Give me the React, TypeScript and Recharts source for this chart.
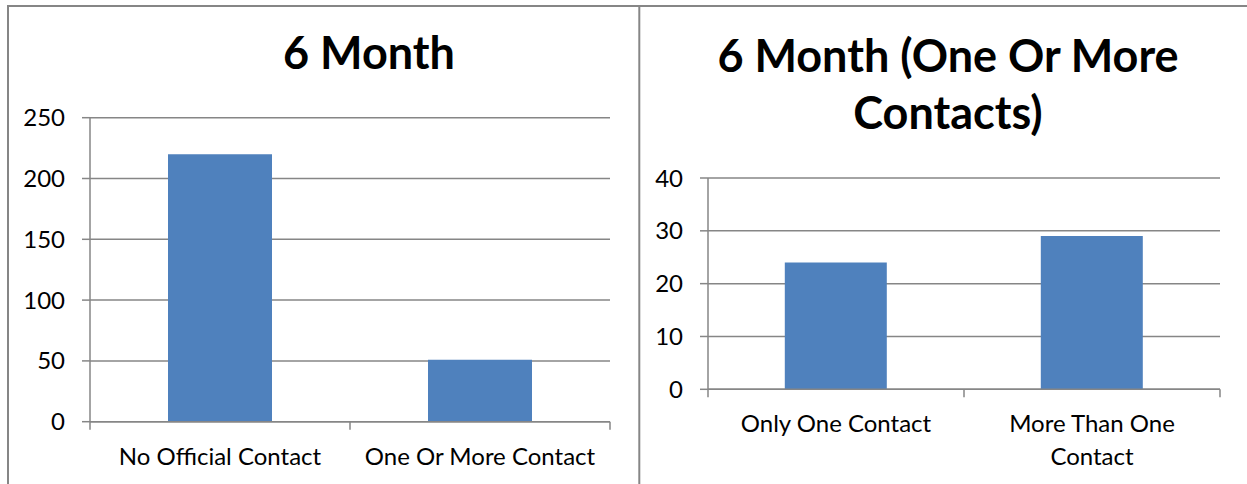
import React from 'react';
import { BarChart, Bar, XAxis, YAxis, CartesianGrid } from 'recharts';

const leftCategories = ['No Official Contact', 'One Or More Contact'];
const leftValues = [220, 51];
const leftTicks = [0, 50, 100, 150, 200, 250];
const leftTitle = ['6 Month'];

const rightCategories = ['Only One Contact', 'More Than One Contact'];
const rightValues = [24, 29];
const rightTicks = [0, 10, 20, 30, 40];
const rightTitle = ['6 Month (One Or More', 'Contacts)'];

const leftData = leftCategories.map((name, i) => ({ name, value: leftValues[i] }));
const rightData = rightCategories.map((name, i) => ({ name, value: rightValues[i] }));

const GRAY = '#868686';
const BLUE = '#4F81BD';
const FONT = 'Lato, "Open Sans", sans-serif';
const LABEL_SIZE = 24;
const TITLE_SIZE = 45;

let ctx: CanvasRenderingContext2D | null = null;
function measure(text: string, size: number): number {
  if (!ctx) {
    const c = document.createElement('canvas');
    ctx = c.getContext('2d');
  }
  if (!ctx) return text.length * size * 0.5;
  ctx.font = `${size}px Lato`;
  return ctx.measureText(text).width;
}

function wrap(text: string, maxW: number, size: number): string[] {
  const words = text.split(' ');
  const lines: string[] = [];
  let cur = '';
  for (const w of words) {
    const trial = cur ? cur + ' ' + w : w;
    if (cur && measure(trial, size) > maxW) {
      lines.push(cur);
      cur = w;
    } else {
      cur = trial;
    }
  }
  if (cur) lines.push(cur);
  return lines;
}

function makeTick(half: number, wrapWidth: number) {
  return (props: any) => {
    const { x, y, payload, index } = props;
    const lines = wrap(String(payload.value), wrapWidth, LABEL_SIZE);
    return (
      <g>
        {index === 0 && (
          <line x1={x - half} x2={x - half} y1={y} y2={y + 8} stroke={GRAY} strokeWidth={1.5} />
        )}
        <line x1={x + half} x2={x + half} y1={y} y2={y + 8} stroke={GRAY} strokeWidth={1.5} />
        <text x={x} y={y + 43} textAnchor="middle" fill="#000" fontSize={LABEL_SIZE} fontFamily={FONT}>
          {lines.map((l, i) => (
            <tspan key={i} x={x} dy={i === 0 ? 0 : 32.5}>
              {l}
            </tspan>
          ))}
        </text>
      </g>
    );
  };
}

type PanelProps = {
  data: { name: string; value: number }[];
  ticks: number[];
  width: number;
  height: number;
  plotLeft: number;
  plotRight: number;
  plotTop: number;
  plotBottom: number;
  wrapWidth: number;
};

function Panel(p: PanelProps) {
  const plotW = p.plotRight - p.plotLeft;
  const half = plotW / p.data.length / 2;
  return (
    <BarChart
      width={p.width}
      height={p.height}
      data={p.data}
      margin={{ top: p.plotTop, right: p.width - p.plotRight, left: 0, bottom: 0 }}
      barCategoryGap="30%"
    >
      <CartesianGrid vertical={false} stroke={GRAY} strokeWidth={1.5} />
      <YAxis
        width={p.plotLeft}
        domain={[p.ticks[0], p.ticks[p.ticks.length - 1]]}
        ticks={p.ticks}
        interval={0}
        tickSize={8}
        tickMargin={17}
        axisLine={{ stroke: GRAY, strokeWidth: 1.5 }}
        tickLine={{ stroke: GRAY, strokeWidth: 1.5 }}
        tick={{ fill: '#000', fontSize: LABEL_SIZE, fontFamily: FONT }}
      />
      <XAxis
        dataKey="name"
        height={p.height - p.plotBottom}
        interval={0}
        tickSize={0}
        tickMargin={0}
        tickLine={false}
        axisLine={{ stroke: GRAY, strokeWidth: 1.5 }}
        tick={makeTick(half, p.wrapWidth)}
      />
      <Bar dataKey="value" fill={BLUE} isAnimationActive={false} />
    </BarChart>
  );
}

export default function App() {
  return (
    <div
      style={{
        position: 'absolute',
        left: 0,
        top: 0,
        width: 1247,
        height: 484,
        background: '#fff',
        fontFamily: FONT,
        overflow: 'hidden',
      }}
    >
      <div style={{ position: 'absolute', left: 0, top: 0 }}>
        <Panel
          data={leftData}
          ticks={leftTicks}
          width={639}
          height={484}
          plotLeft={90}
          plotRight={610}
          plotTop={117.7}
          plotBottom={421.7}
          wrapWidth={250}
        />
      </div>
      <div style={{ position: 'absolute', left: 639, top: 0 }}>
        <Panel
          data={rightData}
          ticks={rightTicks}
          width={608}
          height={484}
          plotLeft={69}
          plotRight={581}
          plotTop={178}
          plotBottom={389.3}
          wrapWidth={215}
        />
      </div>
      <svg
        width={1247}
        height={484}
        style={{ position: 'absolute', left: 0, top: 0, pointerEvents: 'none' }}
      >
        <line x1={8} x2={8} y1={6} y2={484} stroke={GRAY} strokeWidth={2} />
        <line x1={7} x2={1247} y1={6} y2={6} stroke={GRAY} strokeWidth={2} />
        <line x1={639.3} x2={639.3} y1={6} y2={484} stroke={GRAY} strokeWidth={2} />
        {leftTitle.map((t, i) => (
          <text
            key={t}
            x={369}
            y={69 + i * 57}
            textAnchor="middle"
            fontFamily={FONT}
            fontWeight={700}
            fontSize={TITLE_SIZE}
            fill="#000"
          >
            {t}
          </text>
        ))}
        {rightTitle.map((t, i) => (
          <text
            key={t}
            x={948}
            y={71.5 + i * 57}
            textAnchor="middle"
            fontFamily={FONT}
            fontWeight={700}
            fontSize={TITLE_SIZE}
            fill="#000"
          >
            {t}
          </text>
        ))}
      </svg>
    </div>
  );
}
